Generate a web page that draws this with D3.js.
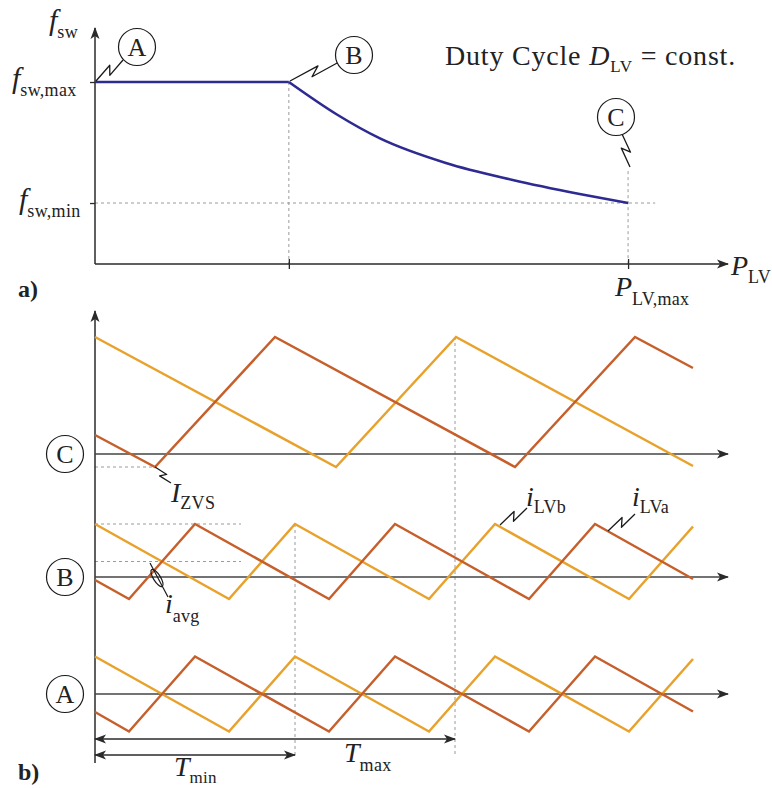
<!DOCTYPE html>
<html>
<head>
<meta charset="utf-8">
<script src="https://cdn.jsdelivr.net/npm/d3@7"></script>
<style>
  body { margin: 0; background: #fff; }
  text { font-family: "Liberation Serif", "DejaVu Serif", serif; fill: #222; }
</style>
</head>
<body>
<svg id="chart" width="772" height="789"></svg>
<script>
// ---------- panel a: switching frequency over LV power ----------
// power normalised to the corner point B, frequency normalised to f_sw,max
const powerPlateau = [0, 1];
const freqPlateau  = [1, 1];
const powerDecay   = [1, 1.25, 1.47, 1.81, 2.155, 2.5, 2.75];
const freqDecay    = [1, 0.82, 0.69, 0.555, 0.462, 0.385, 0.335];
const powerB = 1, powerMax = 2.75;
const freqMax = 1, freqMin = 0.335;

// ---------- panel b: phase currents, time normalised to T_min ----------
// i_LVb (orange) and i_LVa (red) corner points for operating points A, B, C
const timeA_LVb = [0, 0.67, 1, 1.67, 2, 2.67, 2.99];
const currA_LVb = [3.75, -3.75, 3.75, -3.75, 3.75, -3.75, 3.5];
const timeA_LVa = [0, 0.17, 0.5, 1.17, 1.5, 2.17, 2.5, 2.99];
const currA_LVa = [-1.8, -3.75, 3.75, -3.75, 3.75, -3.75, 3.75, -1.75];

const timeB_LVb = [0, 0.67, 1, 1.67, 2, 2.67, 2.99];
const currB_LVb = [5.3, -2.2, 5.3, -2.2, 5.3, -2.2, 5.05];
const timeB_LVa = [0, 0.17, 0.5, 1.17, 1.5, 2.17, 2.5, 2.99];
const currB_LVa = [-0.3, -2.2, 5.3, -2.2, 5.3, -2.2, 5.3, -0.2];

const timeC_LVb = [0, 1.205, 1.805, 2.99];
const currC_LVb = [11.7, -1.3, 11.7, -1.2];
const timeC_LVa = [0, 0.3, 0.9, 2.1, 2.7, 2.99];
const currC_LVa = [1.9, -1.3, 11.7, -1.3, 11.7, 8.6];

const periodMin = 1, periodMax = 1.8;
const currZVS = -1.3;          // valley current of point C
const currPeakB = 5.3, currAvgB = 1.55;

const colLVb = "#E8A22C", colLVa = "#C65F2B", colFreq = "#2D2A92";
const axisCol = "#2a2a2a", dashCol = "#9a9a9a";

const svg = d3.select("#chart");
const defs = svg.append("defs");
defs.append("marker").attr("id", "tip")
  .attr("viewBox", "0 0 12 10").attr("refX", 11).attr("refY", 5)
  .attr("markerWidth", 12).attr("markerHeight", 10)
  .attr("markerUnits", "userSpaceOnUse").attr("orient", "auto-start-reverse")
  .append("path").attr("d", "M0,0.5 L12,5 L0,9.5 L3,5 Z").attr("fill", axisCol);

// text with italic symbol and upright subscript
function mathText(g, x, y, sym, sub, o = {}) {
  const size = o.size || 28, subSize = o.subSize || 18, drop = o.drop || 8;
  const t = g.append("text").attr("x", x).attr("y", y)
    .attr("text-anchor", o.anchor || "start").attr("font-size", size);
  t.append("tspan").attr("font-style", "italic").text(sym);
  t.append("tspan").attr("font-size", subSize).attr("dy", drop)
    .attr("letter-spacing", 0.3).text(sub);
  return t;
}

// lightning style leader line
function zig(p0, p1, w) {
  const dx = p1[0] - p0[0], dy = p1[1] - p0[1], L = Math.hypot(dx, dy);
  const nx = -dy / L, ny = dx / L;
  const m1 = [p0[0] + dx * 0.6 - nx * w, p0[1] + dy * 0.6 - ny * w];
  const m2 = [p0[0] + dx * 0.42 + nx * w, p0[1] + dy * 0.42 + ny * w];
  return d3.line()([p0, m1, m2, p1]);
}
function leader(g, p0, p1, w = 4) {
  g.append("path").attr("d", zig(p0, p1, w)).attr("fill", "none")
    .attr("stroke", "#1a1a1a").attr("stroke-width", 1.3).attr("stroke-linejoin", "round");
}
function badge(g, cx, cy, letter) {
  g.append("circle").attr("cx", cx).attr("cy", cy).attr("r", 18.5)
    .attr("fill", "#fff").attr("stroke", "#1a1a1a").attr("stroke-width", 1.2);
  g.append("text").attr("x", cx).attr("y", cy + 9).attr("text-anchor", "middle")
    .attr("font-size", 26).text(letter);
}
function dashed(g, xa, ya, xb, yb) {
  g.append("line").attr("x1", xa).attr("y1", ya).attr("x2", xb).attr("y2", yb)
    .attr("stroke", dashCol).attr("stroke-width", 1).attr("stroke-dasharray", "3,3");
}

// =============== panel a ===============
const ga = svg.append("g");
const xP = d3.scaleLinear().domain([0, 3.25]).range([95, 725]);
const yF = d3.scaleLinear().domain([0, 1]).range([264, 82]);

dashed(ga, xP(0), yF(freqMin), xP(2.89), yF(freqMin));
dashed(ga, xP(powerB), yF(freqMax), xP(powerB), yF(0));
dashed(ga, xP(powerMax), yF(0.51), xP(powerMax), yF(0));

// axes
ga.append("line").attr("x1", xP(0)).attr("y1", yF(0)).attr("x2", xP(0)).attr("y2", 28)
  .attr("stroke", axisCol).attr("stroke-width", 1.5).attr("marker-end", "url(#tip)");
ga.append("line").attr("x1", xP(0)).attr("y1", yF(0)).attr("x2", 728).attr("y2", yF(0))
  .attr("stroke", axisCol).attr("stroke-width", 1.5).attr("marker-end", "url(#tip)");

const yAxisA = d3.axisLeft(yF).tickValues([freqMin, freqMax]).tickFormat("").tickSize(5);
ga.append("g").attr("transform", `translate(${xP(0)},0)`).call(yAxisA)
  .call(s => s.select(".domain").remove())
  .call(s => s.selectAll("line").attr("stroke", axisCol).attr("stroke-width", 1.3));
const xAxisA = d3.axisBottom(xP).tickValues([powerB, powerMax]).tickFormat("").tickSize(5);
ga.append("g").attr("transform", `translate(0,${yF(0)})`).call(xAxisA)
  .call(s => s.select(".domain").remove())
  .call(s => s.selectAll("line").attr("y1", -5).attr("stroke", axisCol).attr("stroke-width", 1.3));

// frequency curve
const lineA = d3.line().x(d => xP(d[0])).y(d => yF(d[1]));
ga.append("path").datum(d3.zip(powerPlateau, freqPlateau)).attr("d", lineA)
  .attr("fill", "none").attr("stroke", colFreq).attr("stroke-width", 2.6);
ga.append("path").datum(d3.zip(powerDecay, freqDecay))
  .attr("d", lineA.curve(d3.curveMonotoneX))
  .attr("fill", "none").attr("stroke", colFreq).attr("stroke-width", 2.6);

// labels
mathText(ga, 49, 30, "f", "sw", { size: 30, drop: 8 });
mathText(ga, 12, 88, "f", "sw,max", { size: 30, drop: 8 });
mathText(ga, 19, 209, "f", "sw,min", { size: 30, drop: 8 });
mathText(ga, 731, 275, "P", "LV", { drop: 8 });
mathText(ga, 615, 296, "P", "LV,max", { drop: 9 });
ga.append("text").attr("x", 445).attr("y", 65).attr("font-size", 28).attr("letter-spacing", 0.8)
  .call(t => {
    t.append("tspan").text("Duty Cycle ");
    t.append("tspan").attr("font-style", "italic").text("D");
    t.append("tspan").attr("font-size", 17).attr("dy", 7).text("LV");
    t.append("tspan").attr("dy", -7).text(" = const.");
  });
ga.append("text").attr("x", 18).attr("y", 297).attr("font-size", 24)
  .attr("font-weight", "bold").text("a)");

leader(ga, [96, 81], [123, 60], 4);
badge(ga, 137, 47, "A");
leader(ga, [290, 81], [339, 62], 4);
badge(ga, 354, 55, "B");
leader(ga, [630, 167], [622, 134], 4);
badge(ga, 616, 117, "C");

// =============== panel b ===============
const gb = svg.append("g");
const xT = d3.scaleLinear().domain([0, 3]).range([95, 695]);
const baseline = { A: 694, B: 577, C: 454 };
const yRow = k => d3.scaleLinear().domain([0, 1]).range([baseline[k], baseline[k] - 10]);

const rows = [
  { key: "C", lvb: [timeC_LVb, currC_LVb], lva: [timeC_LVa, currC_LVa] },
  { key: "B", lvb: [timeB_LVb, currB_LVb], lva: [timeB_LVa, currB_LVa] },
  { key: "A", lvb: [timeA_LVb, currA_LVb], lva: [timeA_LVa, currA_LVa] }
];

// dashed helper lines
dashed(gb, xT(0), yRow("C")(currZVS), xT(0.3), yRow("C")(currZVS));
dashed(gb, xT(0), yRow("B")(currPeakB), xT(0.73), yRow("B")(currPeakB));
dashed(gb, xT(0), yRow("B")(currAvgB), xT(0.73), yRow("B")(currAvgB));
dashed(gb, xT(periodMin), yRow("B")(currPeakB), xT(periodMin), 757);
dashed(gb, xT(periodMax), yRow("C")(11.7), xT(periodMax), 757);

// vertical axis
gb.append("line").attr("x1", xT(0)).attr("y1", 763).attr("x2", xT(0)).attr("y2", 311)
  .attr("stroke", axisCol).attr("stroke-width", 1.5).attr("marker-end", "url(#tip)");

const lineB = d3.line().x(d => xT(d[0]));
rows.forEach(r => {
  const y = yRow(r.key);
  gb.append("line").attr("x1", xT(0)).attr("y1", y(0)).attr("x2", 728).attr("y2", y(0))
    .attr("stroke", "#444").attr("stroke-width", 1.4).attr("marker-end", "url(#tip)");
  gb.append("path").datum(d3.zip(...r.lvb)).attr("d", lineB.y(d => y(d[1])))
    .attr("fill", "none").attr("stroke", colLVb).attr("stroke-width", 2.5);
  gb.append("path").datum(d3.zip(...r.lva)).attr("d", lineB.y(d => y(d[1])))
    .attr("fill", "none").attr("stroke", colLVa).attr("stroke-width", 2.5);
  badge(gb, 65, y(0), r.key);
});

// period arrows
gb.append("line").attr("x1", xT(0)).attr("y1", 739).attr("x2", xT(periodMax)).attr("y2", 739)
  .attr("stroke", axisCol).attr("stroke-width", 1.3)
  .attr("marker-start", "url(#tip)").attr("marker-end", "url(#tip)");
gb.append("line").attr("x1", xT(0)).attr("y1", 755).attr("x2", xT(periodMin)).attr("y2", 755)
  .attr("stroke", axisCol).attr("stroke-width", 1.3)
  .attr("marker-start", "url(#tip)").attr("marker-end", "url(#tip)");
mathText(gb, 174, 776, "T", "min", { drop: 7, subSize: 17 });
mathText(gb, 344, 762, "T", "max", { drop: 9 });

// current annotations
leader(gb, [xT(0.3), yRow("C")(currZVS)], [171, 483], 3);
mathText(gb, 171, 502, "I", "ZVS", { drop: 7 });
leader(gb, [500, 525], [527, 508], 4);
mathText(gb, 526, 506, "i", "LVb", { drop: 7 });
leader(gb, [608, 531], [635, 514], 4);
mathText(gb, 632, 506, "i", "LVa", { drop: 7 });
gb.append("line").attr("x1", 150).attr("y1", 563).attr("x2", 168).attr("y2", 597)
  .attr("stroke", "#1a1a1a").attr("stroke-width", 1.2);
gb.append("ellipse").attr("cx", 157).attr("cy", 578).attr("rx", 10).attr("ry", 3.5)
  .attr("transform", "rotate(58,157,578)")
  .attr("fill", "none").attr("stroke", "#1a1a1a").attr("stroke-width", 1.2);
mathText(gb, 165, 613, "i", "avg", { drop: 9 });
gb.append("text").attr("x", 18).attr("y", 780).attr("font-size", 24)
  .attr("font-weight", "bold").text("b)");
</script>
</body>
</html>
